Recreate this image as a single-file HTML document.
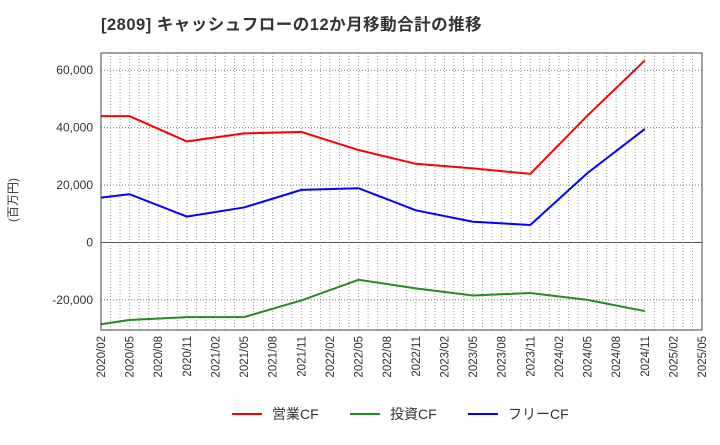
<!DOCTYPE html>
<html><head><meta charset="utf-8"><style>
body{margin:0;background:#fff;}
svg text{font-family:"Liberation Sans","Noto Sans CJK JP",sans-serif;}
</style></head><body>
<svg id="c" width="720" height="440" xmlns="http://www.w3.org/2000/svg">
<text x="101" y="30" font-size="16.5" font-weight="bold" fill="#333" letter-spacing="0.5">[2809]  キャッシュフローの12か月移動合計の推移</text>
<text transform="translate(17,200) rotate(-90)" font-size="12" fill="#333" text-anchor="middle">(百万円)</text>
<g id="grid"></g><g id="series"></g><g id="axes"></g>
<g>
<line x1="232" y1="414" x2="262" y2="414" stroke="#f00" stroke-width="2"/><text x="272" y="419" font-size="14" fill="#333">営業CF</text>
<line x1="350" y1="414" x2="380" y2="414" stroke="#228b22" stroke-width="2"/><text x="390" y="419" font-size="14" fill="#333">投資CF</text>
<line x1="468" y1="414" x2="498" y2="414" stroke="#00f" stroke-width="2"/><text x="508" y="419" font-size="14" fill="#333">フリーCF</text>
</g>
</svg>
<script>
const xLabels=["2020/02","2020/05","2020/08","2020/11","2021/02","2021/05","2021/08","2021/11","2022/02","2022/05","2022/08","2022/11","2023/02","2023/05","2023/08","2023/11","2024/02","2024/05","2024/08","2024/11","2025/02","2025/05"];
const pointIdx=[0,1,3,5,7,9,11,13,15,17,19];
const operatingCF=[44000,44000,35200,38000,38500,32200,27400,25800,23900,44200,63400];
const investingCF=[-28500,-27000,-26000,-26000,-20200,-13000,-16000,-18500,-17600,-20000,-23900];
const freeCF=[15600,16800,9000,12200,18300,18900,11200,7200,6100,24200,39500];
const yTicks=[-20000,0,20000,40000,60000];
const L=101,R=702,T=53,B=330,yMin=-30500,yMax=66000;
const NS="http://www.w3.org/2000/svg";
const Y=v=>B-(v-yMin)/(yMax-yMin)*(B-T);
const PX=i=>L+(R-L)*i/(xLabels.length-1);
function mk(t,a,p){const e=document.createElementNS(NS,t);for(const k in a)e.setAttribute(k,a[k]);p.appendChild(e);return e;}
const g=document.getElementById('grid'),ax=document.getElementById('axes'),s=document.getElementById('series');
for(let m=1;m<63;m++){const x=L+(R-L)*m/63;const l=mk('line',{x1:x,x2:x,y1:T,y2:B,stroke:'#999','stroke-dasharray':'1,2','stroke-width':1},g);

}
yTicks.forEach(v=>{const y=Y(v);const l=mk('line',{x1:L,x2:R,y1:y,y2:y,stroke:v===0?'#555':'#777','stroke-dasharray':v===0?'':'1,2','stroke-width':1},g);


const t=mk('text',{x:L-8,y:y+4,'font-size':12,fill:'#333','text-anchor':'end'},ax);t.textContent=v.toLocaleString('en-US');

});
const fr=mk('rect',{x:L,y:T,width:R-L,height:B-T,fill:'none',stroke:'#444'},ax);


xLabels.forEach((lb,i)=>{const xx=PX(i);const t=mk('text',{transform:`translate(${xx+4},${B+6}) rotate(-90)`,'font-size':11.5,fill:'#333','text-anchor':'end'},ax);t.textContent=lb;

});
[[operatingCF,'#f00','operating-cf-line'],[investingCF,'#228b22','investing-cf-line'],[freeCF,'#00f','free-cf-line']].forEach(([d,c,n])=>{
const p=mk('polyline',{points:d.map((v,k)=>PX(pointIdx[k])+','+Y(v)).join(' '),fill:'none',stroke:c,'stroke-width':2},s);

});
</script>
</body></html>
